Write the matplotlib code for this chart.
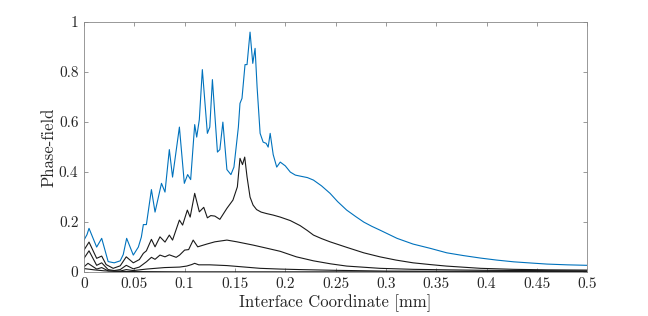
import numpy as np
from matplotlib import pyplot as plt
from matplotlib.ticker import FuncFormatter

# Phase-field profiles along the interface
blue_x = [0, 0.003, 0.005, 0.0126, 0.0176, 0.024, 0.030, 0.036, 0.039, 0.0424, 0.049,
          0.054, 0.057, 0.059, 0.062, 0.067, 0.0706, 0.077, 0.0805, 0.0848, 0.088,
          0.0948, 0.0997, 0.103, 0.106, 0.110, 0.112, 0.1146, 0.1176, 0.1226, 0.125,
          0.1276, 0.1326, 0.135, 0.138, 0.142, 0.146, 0.149, 0.1534, 0.155, 0.157,
          0.160, 0.162, 0.165, 0.1677, 0.170, 0.172, 0.175, 0.178, 0.181, 0.183,
          0.185, 0.188, 0.1915, 0.195, 0.200, 0.205, 0.210, 0.2147, 0.222, 0.228,
          0.236, 0.2445, 0.252, 0.261, 0.270, 0.278, 0.286, 0.294, 0.311, 0.327,
          0.344, 0.3605, 0.377, 0.394, 0.41, 0.427, 0.445, 0.46, 0.48, 0.5]
blue_y = [0.128, 0.15, 0.175, 0.10, 0.135, 0.042, 0.037, 0.045, 0.07, 0.135, 0.068,
          0.10, 0.14, 0.19, 0.19, 0.33, 0.24, 0.355, 0.32, 0.49, 0.38,
          0.58, 0.355, 0.39, 0.37, 0.59, 0.54, 0.61, 0.81, 0.555, 0.58,
          0.77, 0.48, 0.49, 0.60, 0.41, 0.39, 0.42, 0.58, 0.675, 0.695,
          0.83, 0.83, 0.96, 0.835, 0.895, 0.74, 0.555, 0.52, 0.515, 0.50,
          0.555, 0.47, 0.42, 0.44, 0.425, 0.40, 0.388, 0.384, 0.378, 0.368,
          0.345, 0.315, 0.282, 0.248, 0.222, 0.20, 0.183, 0.168, 0.135, 0.112,
          0.095, 0.077, 0.066, 0.056, 0.048, 0.041, 0.036, 0.032, 0.029, 0.027]

black2_x = [0, 0.005, 0.0126, 0.0176, 0.022, 0.029, 0.036, 0.042, 0.049, 0.055, 0.059,
            0.062, 0.067, 0.0706, 0.0755, 0.0805, 0.0848, 0.088, 0.0948, 0.098, 0.1027,
            0.1055, 0.110, 0.1146, 0.119, 0.1226, 0.126, 0.130, 0.135, 0.142, 0.148,
            0.1524, 0.155, 0.1575, 0.1597, 0.162, 0.165, 0.168, 0.1715, 0.176, 0.1815,
            0.188, 0.195, 0.205, 0.2147, 0.222, 0.228, 0.236, 0.2445, 0.261, 0.278,
            0.294, 0.31, 0.327, 0.344, 0.36, 0.394, 0.427, 0.46, 0.5]
black2_y = [0.088, 0.12, 0.055, 0.064, 0.03, 0.015, 0.025, 0.061, 0.037, 0.05, 0.075,
            0.085, 0.131, 0.101, 0.141, 0.12, 0.148, 0.128, 0.208, 0.188, 0.248,
            0.22, 0.315, 0.241, 0.259, 0.217, 0.226, 0.224, 0.211, 0.255, 0.288,
            0.341, 0.455, 0.43, 0.46, 0.381, 0.30, 0.268, 0.25, 0.24, 0.234,
            0.228, 0.22, 0.206, 0.186, 0.166, 0.148, 0.134, 0.121, 0.099, 0.077,
            0.061, 0.048, 0.037, 0.03, 0.024, 0.015, 0.011, 0.009, 0.008]

black3_x = [0, 0.005, 0.0126, 0.0176, 0.024, 0.03, 0.036, 0.042, 0.049, 0.055, 0.062,
            0.067, 0.0706, 0.0755, 0.0805, 0.0848, 0.0916, 0.095, 0.100, 0.104, 0.1085,
            0.113, 0.122, 0.130, 0.142, 0.152, 0.168, 0.18, 0.195, 0.211, 0.228, 0.245,
            0.261, 0.294, 0.327, 0.36, 0.4, 0.45, 0.5]
black3_y = [0.055, 0.085, 0.027, 0.037, 0.01, 0.006, 0.01, 0.027, 0.013, 0.02, 0.041,
            0.059, 0.051, 0.068, 0.061, 0.069, 0.059, 0.068, 0.088, 0.09, 0.128,
            0.101, 0.112, 0.121, 0.128, 0.121, 0.108, 0.097, 0.083, 0.061, 0.045, 0.033,
            0.024, 0.015, 0.011, 0.009, 0.007, 0.006, 0.005]

black4_x = [0, 0.004, 0.0126, 0.0176, 0.024, 0.036, 0.042, 0.049, 0.062, 0.08, 0.095,
            0.102, 0.107, 0.110, 0.114, 0.125, 0.142, 0.16, 0.175, 0.195, 0.214,
            0.25, 0.3, 0.4, 0.5]
black4_y = [0.021, 0.035, 0.012, 0.018, 0.005, 0.004, 0.01, 0.006, 0.012, 0.018, 0.02,
            0.024, 0.03, 0.035, 0.029, 0.029, 0.026, 0.02, 0.015, 0.012, 0.01,
            0.007, 0.004, 0.003, 0.002]

black5_x = [0, 0.01, 0.02, 0.03, 0.05, 0.1, 0.2, 0.5]
black5_y = [0.014, 0.009, 0.005, 0.003, 0.002, 0.001, 0.001, 0.001]

x_ticks = np.arange(0, 0.5001, 0.05)
y_ticks = np.arange(0, 1.0001, 0.2)

plt.rcParams["font.family"] = "serif"
plt.rcParams["font.serif"] = ["cmr10"]
plt.rcParams["mathtext.fontset"] = "cm"
plt.rcParams["axes.formatter.use_mathtext"] = True

fig = plt.figure(figsize=(6.48, 3.16), dpi=100)
ax = fig.add_axes([0.1296, 0.139, 0.7766, 0.791])

line_w = 0.8
for xs, ys in [(black5_x, black5_y), (black4_x, black4_y),
               (black3_x, black3_y), (black2_x, black2_y)]:
    ax.plot(xs, ys, color="#1a1a1a", lw=line_w)
ax.plot(blue_x, blue_y, color="#0072BD", lw=line_w)

ax.set_xlim(0, 0.5)
ax.set_ylim(0, 1)
ax.set_xticks(x_ticks)
ax.set_yticks(y_ticks)
fmt = FuncFormatter(lambda v, p: f"{v:g}")
ax.xaxis.set_major_formatter(fmt)
ax.yaxis.set_major_formatter(fmt)

# MATLAB-ish box: thin grey frame, ticks pointing in on all sides
for s in ax.spines.values():
    s.set_color("#888888")
    s.set_linewidth(0.6)
ax.tick_params(direction="in", top=True, right=True, length=3, width=0.6,
               color="#888888", labelsize=11, labelcolor="#262626", pad=4)

ax.set_xlabel("Interface Coordinate [mm]", fontsize=12, color="#262626", labelpad=2)
ax.set_ylabel("Phase-field", fontsize=12, color="#262626", labelpad=2)

plt.savefig("out.png", dpi=100)
